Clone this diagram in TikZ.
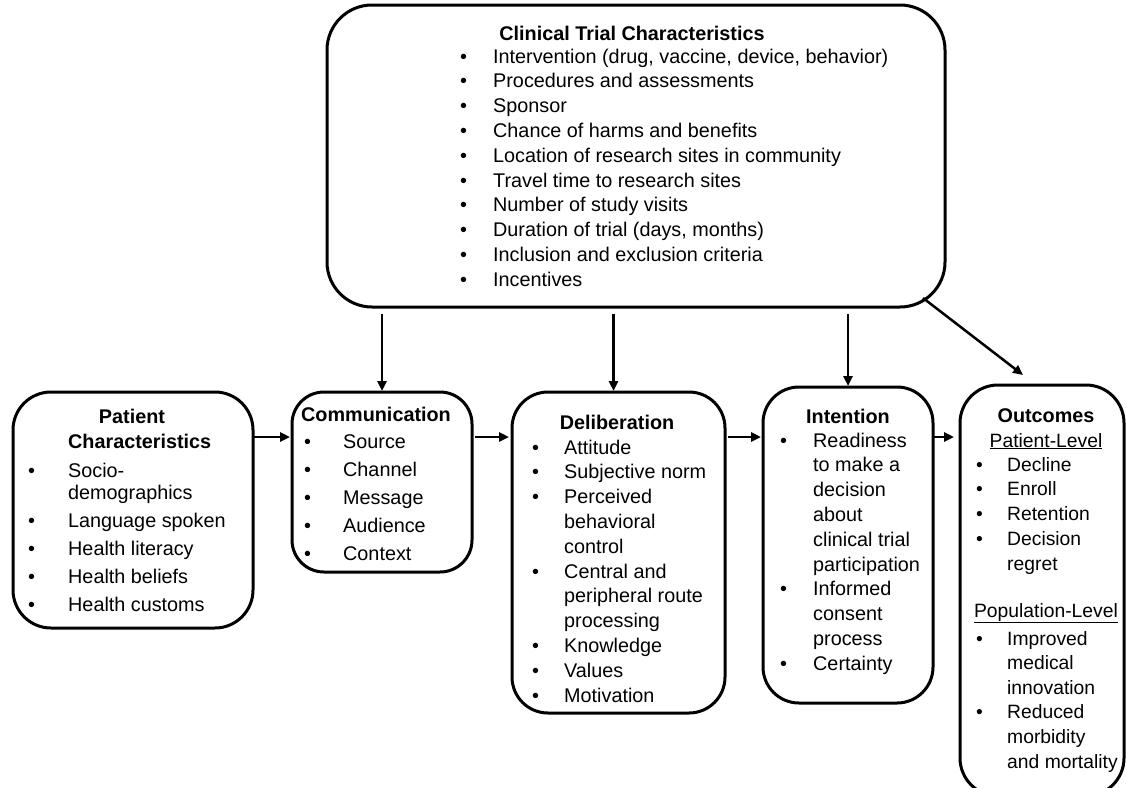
\documentclass[tikz,border=0pt]{standalone}
\usepackage{fontspec}
\setmainfont{Liberation Sans}
\usetikzlibrary{arrows.meta}
\newcommand\fsz[1]{\fontsize{19.8}{#1}\selectfont}
\newcommand\fso[1]{\fontsize{19.3}{#1}\selectfont}
\begin{document}
\begin{tikzpicture}[x=1pt,y=-1pt,
  box/.style={draw, line width=3pt, rounded corners=#1, inner sep=0pt, outer sep=0pt, anchor=north west},
  box/.default=35pt,
  ttl/.style={inner sep=0pt, font=\fsz{24}\bfseries, anchor=base},
  lst/.style={inner sep=0pt, anchor=base west, align=left},
  arr/.style={line width=2.5pt, -{Triangle[length=10pt,width=9pt]}}]
\useasboundingbox (0,0) rectangle (1126,787);

% boxes
\node[box=45pt, minimum width=618pt, minimum height=302pt] (trial) at (327,5) {};
\node[box=38pt, minimum width=240pt, minimum height=236pt] (pat) at (13,392) {};
\node[box=32pt, minimum width=180pt, minimum height=180pt] (com) at (292,392) {};
\node[box=36pt, minimum width=213pt, minimum height=321pt] (del) at (512,392) {};
\node[box=36pt, minimum width=170pt, minimum height=316pt] (int) at (763,387) {};
\node[box=38pt, minimum width=164pt, minimum height=411pt] (out) at (960,385) {};

% clinical trial text
\node[ttl] (trialttl) at (632,40) {Clinical Trial Characteristics};
\node[lst] (trialtxt) at (460,63) {\fsz{24.8}\begin{tabular}[t]{@{}p{33pt}@{}l@{}}
\textbullet & Intervention (drug, vaccine, device, behavior)\\
\textbullet & Procedures and assessments\\
\textbullet & Sponsor\\
\textbullet & Chance of harms and benefits\\
\textbullet & Location of research sites in community\\
\textbullet & Travel time to research sites\\
\textbullet & Number of study visits\\
\textbullet & Duration of trial (days, months)\\
\textbullet & Inclusion and exclusion criteria\\
\textbullet & Incentives
\end{tabular}};

% patient
\node[ttl] (patttl) at (132,423) {Patient};
\node[ttl, anchor=base west] (patttl2) at (68,448) {Characteristics};
\node[lst] (pattxt) at (28,477) {\fsz{22.5}\begin{tabular}[t]{@{}p{40pt}@{}l@{}}
\textbullet & Socio-\\
 & demographics\\[5.5pt]
\textbullet & Language spoken\\[5.5pt]
\textbullet & Health literacy\\[5.5pt]
\textbullet & Health beliefs\\[5.5pt]
\textbullet & Health customs
\end{tabular}};

% communication
\node[ttl] (comttl) at (376,421) {Communication};
\node[lst] (comtxt) at (304,448) {\fsz{28}\begin{tabular}[t]{@{}p{39pt}@{}l@{}}
\textbullet & Source\\
\textbullet & Channel\\
\textbullet & Message\\
\textbullet & Audience\\
\textbullet & Context
\end{tabular}};

% deliberation
\node[ttl] (delttl) at (617,429) {Deliberation};
\node[lst] (deltxt) at (532,454) {\fsz{24.8}\begin{tabular}[t]{@{}p{32pt}@{}l@{}}
\textbullet & Attitude\\
\textbullet & Subjective norm\\
\textbullet & Perceived\\
 & behavioral\\
 & control\\
\textbullet & Central and\\
 & peripheral route\\
 & processing\\
\textbullet & Knowledge\\
\textbullet & Values\\
\textbullet & Motivation
\end{tabular}};

% intention
\node[ttl] (intttl) at (848,423) {Intention};
\node[lst] (inttxt) at (780,447) {\fsz{24.8}\begin{tabular}[t]{@{}p{33pt}@{}l@{}}
\textbullet & Readiness\\
 & to make a\\
 & decision\\
 & about\\
 & clinical trial\\
 & participation\\
\textbullet & Informed\\
 & consent\\
 & process\\
\textbullet & Certainty
\end{tabular}};

% outcomes
\node[ttl] (outttl) at (1046,422) {Outcomes};
\node[ttl, font=\fso{24}] (outpl) at (1046,447) {\underline{Patient-Level}};
\node[lst] (outtxt1) at (976,471) {\fso{24.8}\begin{tabular}[t]{@{}p{31pt}@{}l@{}}
\textbullet & Decline\\
\textbullet & Enroll\\
\textbullet & Retention\\
\textbullet & Decision\\
 & regret
\end{tabular}};
\node[ttl, font=\fso{24}] (outpop) at (1046,617) {\underline{Population-Level}};
\node[lst] (outtxt2) at (976,645) {\fso{24.6}\begin{tabular}[t]{@{}p{31pt}@{}l@{}}
\textbullet & Improved\\
 & medical\\
 & innovation\\
\textbullet & Reduced\\
 & morbidity\\
 & and mortality
\end{tabular}};

% connectors
\path (trial.south) ++(0,7) coordinate (tb);
\coordinate (hy) at (0,437);
\draw[arr, shorten >=1pt] (tb -| com.north) -- (com.north);
\draw[arr, shorten >=1pt] (tb -| del.north) ++(-5,0) -- ([xshift=-5pt]del.north);
\draw[arr, shorten >=1pt] (tb -| int.north) -- (int.north);
\draw[arr] ([shift={(-22,-9)}]trial.south east) -- ([shift={(-19,-10)}]out.north);
\draw[arr, shorten <=1pt, shorten >=2pt] (hy -| pat.east) -- (hy -| com.west);
\draw[arr, shorten <=3pt, shorten >=3pt] (hy -| com.east) -- (hy -| del.west);
\draw[arr, shorten <=3pt, shorten >=2pt] (hy -| del.east) -- (hy -| int.west);
\draw[arr, shorten <=1pt, shorten >=6pt] (hy -| int.east) -- (hy -| out.west);
\end{tikzpicture}
\end{document}
